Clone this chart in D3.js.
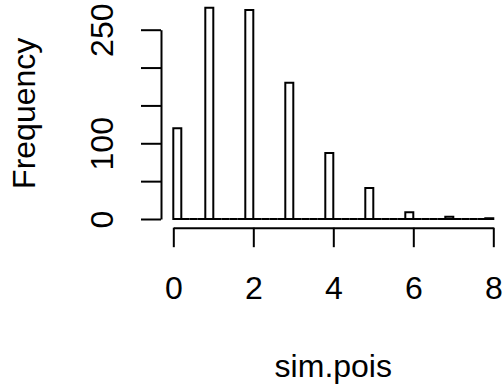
<!DOCTYPE html>
<html>
<head>
<meta charset="utf-8">
<script src="https://cdn.jsdelivr.net/npm/d3@7"></script>
<style>
  body { margin: 0; background: #fff; }
  svg { display: block; font-family: "Liberation Sans", Arial, Helvetica, sans-serif; }
</style>
</head>
<body>
<div id="chart"></div>
<script>
// values taken by sim.pois and their counts (histogram, bins of width 0.2)
const values = [0, 1, 2, 3, 4, 5, 6, 7, 8];
const counts = [120, 279, 276, 180, 87, 41, 9, 3, 1];
const binWidth = 0.2;
const xTicks = [0, 2, 4, 6, 8];
const yTicks = [0, 50, 100, 150, 200, 250];

const width = 504, height = 387;

// construire les bins : [0,0.2], (0.2,0.4], ... (7.8,8]
const bins = d3.range(0, 40).map(i => {
    const x0 = i * binWidth, x1 = (i + 1) * binWidth;
    const k = values.findIndex(v => Math.abs(v - (i === 0 ? 0 : x1)) < 1e-9 && (i === 0 || v > x0));
    return { x0, x1, n: k >= 0 ? counts[k] : 0 };
});

const x = d3.scaleLinear().domain([0, 8]).range([173.3, 493.3]);
const y = d3.scaleLinear().domain([0, 250]).range([219, 29.7]);

const svg = d3.select('#chart').append('svg')
    .attr('width', width)
    .attr('height', height);

// barres (path pour que les bins vides restent visibles sur la ligne de base)
svg.append('g')
    .selectAll('path')
    .data(bins)
    .enter()
    .append('path')
    .attr('d', d => `M${x(d.x0)},${y(0)}V${y(d.n)}H${x(d.x1)}V${y(0)}Z`)
    .attr('fill', 'none')
    .attr('stroke', '#000')
    .attr('stroke-width', 2);

// axe x
const gx = svg.append('g')
    .attr('transform', 'translate(0,227.7)')
    .call(d3.axisBottom(x).tickValues(xTicks).tickSize(19.5).tickSizeOuter(0).tickFormat(d3.format('d')));
gx.select('.domain').attr('stroke-width', 2);
gx.selectAll('.tick line').attr('stroke-width', 2);
gx.selectAll('.tick text')
    .attr('y', 71.3)
    .attr('dy', 0)
    .attr('font-size', 32)
    .attr('fill', '#000');

// axe y
const gy = svg.append('g')
    .attr('transform', 'translate(161,0)')
    .call(d3.axisLeft(y).tickValues(yTicks).tickSize(20).tickSizeOuter(0).tickFormat(d3.format('d')));
gy.select('.domain').attr('stroke-width', 2);
gy.selectAll('.tick line').attr('stroke-width', 2);
gy.selectAll('.tick text')
    .attr('x', 0)
    .attr('dy', 0)
    .attr('text-anchor', 'middle')
    .attr('transform', 'translate(-48,0) rotate(-90)')
    .attr('font-size', 32)
    .attr('fill', '#000');

// comme R : on saute les étiquettes trop proches de la précédente (gap = 1 "m")
const gap = 32 * 0.833;
let lastTop = null;
gy.selectAll('.tick text').each(function (d) {
    const w = this.getComputedTextLength();
    const bottom = y(d) + w / 2, top = y(d) - w / 2;
    if (lastTop !== null && lastTop - bottom < gap) {
        d3.select(this).remove();
    } else {
        lastTop = top;
    }
});

// titres des axes
svg.append('text')
    .attr('x', (x(0) + x(8)) / 2)
    .attr('y', 377)
    .attr('text-anchor', 'middle')
    .attr('font-size', 32)
    .text('sim.pois');

svg.append('text')
    .attr('transform', 'translate(35,113.3) rotate(-90)')
    .attr('text-anchor', 'middle')
    .attr('font-size', 32)
    .text('Frequency');
</script>
</body>
</html>
